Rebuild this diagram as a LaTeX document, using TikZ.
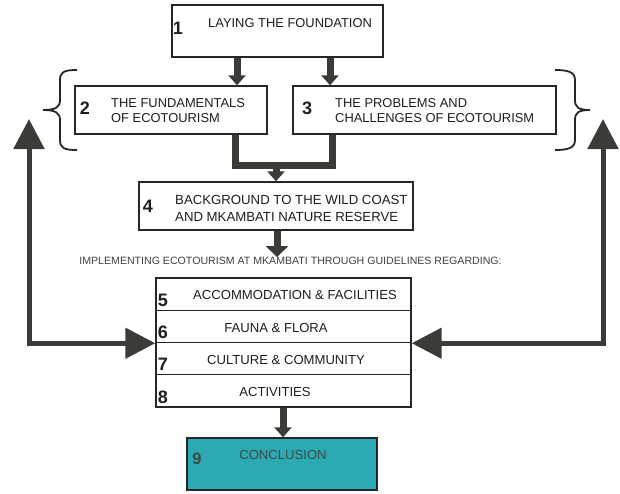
\documentclass[tikz,border=0pt]{standalone}
\usepackage{fontspec}
\setmainfont{Liberation Sans}
\usetikzlibrary{arrows.meta}
\definecolor{arrowgray}{HTML}{3A3C38}
\definecolor{boxline}{HTML}{262626}
\definecolor{tealfill}{HTML}{2BAAB3}
\definecolor{txt}{HTML}{1E1E1E}
\definecolor{conctxt}{HTML}{3D4A48}
\begin{document}
\begin{tikzpicture}[x=1pt,y=-1pt,
  box/.style={draw=boxline, line width=1.4pt, fill=white, inner sep=0pt},
  num/.style={font=\fontsize{18}{18}\selectfont\bfseries, text=txt, inner sep=0pt},
  lbl/.style={font=\fontsize{12.9}{15.5}\selectfont, align=left, text=txt, inner sep=0pt},
  rowlbl/.style={font=\fontsize{13.1}{15.5}\selectfont, text=txt, inner sep=0pt},
  lblb/.style={font=\fontsize{13.2}{17}\selectfont, align=left, text=txt, inner sep=0pt},
  sub/.style={font=\fontsize{10.6}{12}\selectfont, text=txt!85, inner sep=0pt},
  conn/.style={draw=arrowgray, line width=7pt, line join=miter},
  tarrow/.style={draw=arrowgray, line width=7pt, -{Triangle[width=17pt,length=10pt]}},
  barrow/.style={draw=arrowgray, line width=5pt, line join=miter,
    {Triangle[width=30pt,length=30pt]}-{Triangle[width=30pt,length=30pt]}},
  bracepath/.style={draw=boxline, line width=1.8pt}
]
\useasboundingbox (0,0) rectangle (620,493);
\fill[white] (0,0) rectangle (620,493);

% boxes
\node[box, minimum width=211pt, minimum height=52pt] (b1) at (277.5,31) {};
\node[box, minimum width=192pt, minimum height=48pt] (b2) at (171,110) {};
\node[box, minimum width=263pt, minimum height=48pt] (b3) at (424.5,110) {};
\node[box, minimum width=274pt, minimum height=48pt] (b4) at (276,206) {};
\node[box, minimum width=255pt, minimum height=32.25pt] (r5) at (283.5,294.1) {};
\node[box, minimum width=255pt, minimum height=32.25pt] (r6) at (283.5,326.4) {};
\node[box, minimum width=255pt, minimum height=32.25pt] (r7) at (283.5,358.6) {};
\node[box, minimum width=255pt, minimum height=32.25pt] (r8) at (283.5,390.9) {};
\node[box, fill=tealfill, minimum width=190pt, minimum height=52pt] (b9) at (282,464) {};

% texts
\node[num] (n1) at (178,28.5) {1};
\node[lbl, anchor=west] (t1) at (208,23) {LAYING THE FOUNDATION};
\node[num] (n2) at (85,108) {2};
\node[lbl, anchor=west] (t2) at (111,110.5) {THE FUNDAMENTALS\\OF ECOTOURISM};
\node[num] (n3) at (307,108) {3};
\node[lbl, anchor=west] (t3) at (335,110.5) {THE PROBLEMS AND\\CHALLENGES OF ECOTOURISM};
\node[num] (n4) at (148,206) {4};
\node[lblb, anchor=west] (t4) at (175,208.5) {BACKGROUND TO THE WILD COAST\\AND MKAMBATI NATURE RESERVE};
\node[sub] (st) at (290.5,261) {IMPLEMENTING ECOTOURISM AT MKAMBATI THROUGH GUIDELINES REGARDING:};
\node[num] (n5) at (163,300) {5};
\node[rowlbl] (t5) at (295,295) {ACCOMMODATION \& FACILITIES};
\node[num] (n6) at (163,332) {6};
\node[rowlbl] (t6) at (276,328) {FAUNA \& FLORA};
\node[num] (n7) at (163,364.5) {7};
\node[rowlbl] (t7) at (286,360) {CULTURE \& COMMUNITY};
\node[num] (n8) at (163,397) {8};
\node[rowlbl] (t8) at (275,392) {ACTIVITIES};
\node[num, text=conctxt, font=\fontsize{16.5}{16.5}\selectfont\bfseries] (n9) at (197,459) {9};
\node[rowlbl, text=conctxt] (t9) at (283,455) {CONCLUSION};

% connectors
\coordinate (x2) at (237,0);
\coordinate (x3) at (330,0);
\draw[tarrow] (b1.south -| x2) -- (b2.north -| x2);
\draw[tarrow] (b1.south -| x3) -- (b3.north -| x3);
\coordinate (j2) at (235,165);
\coordinate (j3) at (332,165);
\coordinate (jm) at (276,165);
\draw[conn] (b2.south -| j2) -- (j2) -- (j3) -- (b3.south -| j3);
\draw[tarrow] (jm) -- (b4.north -| jm);
\coordinate (x4) at (277,0);
\draw[tarrow, -{Triangle[width=22pt,length=11pt]}] (b4.south -| x4) -- (st.north -| x4);
\coordinate (x9) at (283,0);
\draw[tarrow] (r8.south -| x9) -- (b9.north -| x9);

% feedback arrows
\coordinate (lt) at (29,119);
\coordinate (rt) at (603,119);
\draw[barrow] (lt) -- (lt |- r6.south west) -- (r6.south west);
\draw[barrow] (rt) -- (rt |- r6.south east) -- (r6.south east);

% braces
\draw[bracepath] (77,70) .. controls (64,70) and (60,72) .. (60,80) -- (60,100)
  .. controls (60,107) and (56,110) .. (43,110)
  .. controls (56,110) and (60,113) .. (60,120) -- (60,140)
  .. controls (60,148) and (64,150) .. (77,150);
\draw[bracepath] (555,70) .. controls (568,70) and (575,72) .. (575,80) -- (575,100)
  .. controls (575,107) and (578,110) .. (590,110)
  .. controls (578,110) and (575,113) .. (575,120) -- (575,140)
  .. controls (575,148) and (568,150) .. (555,150);
\end{tikzpicture}
\end{document}
